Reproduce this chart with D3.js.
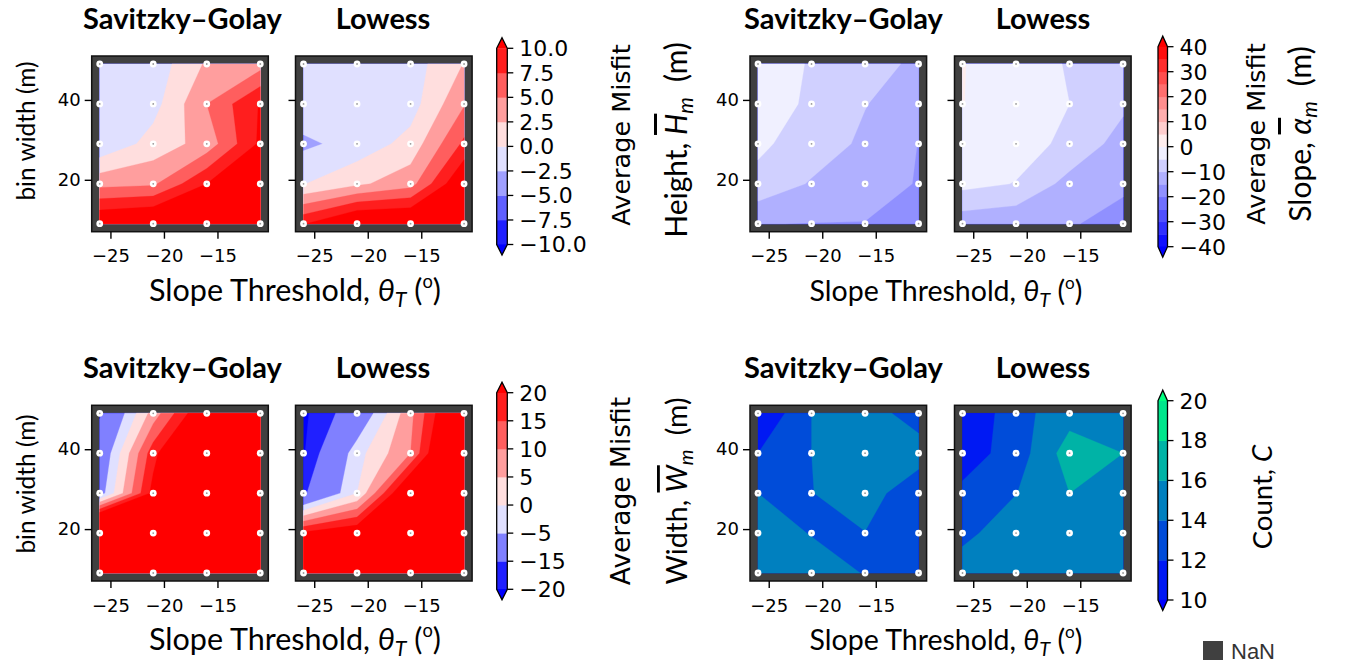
<!DOCTYPE html>
<html><head><meta charset="utf-8">
<script src="https://cdn.jsdelivr.net/npm/d3@7"></script>
<style>body{margin:0;background:#fff} svg{display:block}</style>
</head><body><svg id="c" width="1348" height="665"></svg>
<script>
// ---------------- DATA ----------------
const xGrid = [-26, -21, -16, -11];          // slope threshold
const yGrid = [9, 19, 29, 39, 49];            // bin width
const xTicks = [-25, -20, -15];
const xTickLabels = ["−25", "−20", "−15"];
const yTicks = [20, 40];
const yTickLabels = ["20", "40"];

// rows ordered from bin width 9 (bottom) to 49 (top); columns follow xGrid
const heightSG = [
  [13, 14, 14, 14],
  [4.2, 4.6, 10, 14],
  [-2.2, 1.0, 3.5, 10.5],
  [-1.5, -0.95, 5.0, 10.2],
  [-1.5, -1.54, 2.85, 4.0]
];
const heightLowess = [
  [9.8, 14, 14, 14],
  [-0.1, 2.0, 4.0, 13],
  [-3.0, -1.6, 0.9, 8],
  [-0.8, -0.9, -1.13, 4.8],
  [-1.0, -1.0, -1.22, 2.6]
];
const slopeSG = [
  [-14.9, -15.1, -15.2, -18],
  [-6.2, -10.5, -12, -15.4],
  [-4.2, -7, -11.05, -15.1],
  [-3.5, -5.5, -9.8, -13],
  [-3, -5.3, -8, -11]
];
const slopeLowess = [
  [-13, -14, -14.5, -17],
  [-3.5, -5.2, -11.8, -14],
  [-1, -3, -6.1, -12.2],
  [0.1, -2.5, -5.0, -9],
  [0.2, -3, -5.33, -8]
];
const widthSG = [
  [40, 40, 40, 40],
  [50, 40, 40, 40],
  [-8, 22, 40, 40],
  [-11, 18, 40, 40],
  [-15.7, 7.2, 27, 40]
];
const widthLowess = [
  [40, 40, 40, 40],
  [21, 25, 40, 40],
  [-16, 0, 30, 40],
  [-20.5, -2, 10, 40],
  [-21, -11, 8.6, 33]
];
const countSG = [
  [15, 15, 13.9, 13],
  [15, 13.9, 13.95, 13],
  [14, 13.95, 15, 12.5],
  [12, 14, 15, 15],
  [10, 14, 15, 13]
];
const countLowess = [
  [15, 15, 15, 15],
  [13.5, 15.1, 15, 15],
  [12.45, 13.95, 16, 15],
  [11, 12.9, 17, 16],
  [10, 13.3, 15.2, 15]
];

const heightLevels = [-10, -7.5, -5, -2.5, 0, 2.5, 5, 7.5, 10];
const heightTickLabels = ["−10.0", "−7.5", "−5.0", "−2.5", "0.0", "2.5", "5.0", "7.5", "10.0"];
const slopeLevels = [-40, -35, -30, -25, -20, -15, -10, -5, 0, 5, 10, 15, 20, 25, 30, 35, 40];
const slopeTicks = [-40, -30, -20, -10, 0, 10, 20, 30, 40];
const slopeTickLabels = ["−40", "−30", "−20", "−10", "0", "10", "20", "30", "40"];
const widthLevels = [-20, -15, -5, 0, 5, 10, 15, 20];
const widthTickLabels = ["−20", "−15", "−5", "0", "5", "10", "15", "20"];
const countLevels = [10, 12, 14, 16, 18, 20];
const countTickLabels = ["10", "12", "14", "16", "18", "20"];

const subplotTitles = ["Savitzky–Golay", "Lowess"];

// ---------------- COLORMAPS ----------------
function lutIndex(t) { return Math.min(255, Math.max(0, Math.floor(t * 256))) / 255; }
function bwr(t) {
  const u = lutIndex(t); let r, g, b;
  if (u < 0.5) { r = g = 2 * u; b = 1; } else { r = 1; g = b = 2 * (1 - u); }
  return d3.rgb(r * 255, g * 255, b * 255).toString();
}
function winter(t) {
  const u = lutIndex(t);
  return d3.rgb(0, u * 255, (1 - 0.5 * u) * 255).toString();
}

// ---------------- LAYOUT ----------------
const svg = d3.select("#c");
const axW = 176.6, axH = 175.7;
const FRAME = "#404040";

function drawAxes(left, top, values, levels, cmap, showYLabels) {
  const g = svg.append("g");
  const xs = d3.scaleLinear().domain([xGrid[0] - 0.75, xGrid[xGrid.length - 1] + 0.75]).range([left, left + axW]);
  const ys = d3.scaleLinear().domain([yGrid[0] - 2, yGrid[yGrid.length - 1] + 2]).range([top + axH, top]);
  g.append("rect").attr("x", left).attr("y", top).attr("width", axW).attr("height", axH).attr("fill", FRAME);

  const n = xGrid.length, m = yGrid.length;
  const flat = values.flat();
  const gi = d3.scaleLinear().domain([0, n - 1]).range([xGrid[0], xGrid[n - 1]]);
  const gj = d3.scaleLinear().domain([0, m - 1]).range([yGrid[0], yGrid[m - 1]]);
  const cl = (v, lo, hi) => Math.max(lo, Math.min(hi, v));
  const proj = d3.geoTransform({
    point(x, y) { this.stream.point(xs(gi(cl(x - 0.5, 0, n - 1))), ys(gj(cl(y - 0.5, 0, m - 1)))); }
  });
  const path = d3.geoPath(proj);
  const vmin = levels[0], vmax = levels[levels.length - 1];
  const norm = v => (v - vmin) / (vmax - vmin);
  g.append("rect")
    .attr("x", xs(xGrid[0])).attr("y", ys(yGrid[m - 1]))
    .attr("width", xs(xGrid[n - 1]) - xs(xGrid[0]))
    .attr("height", ys(yGrid[0]) - ys(yGrid[m - 1]))
    .attr("fill", cmap(-0.1));
  const conts = d3.contours().size([n, m]).thresholds(levels)(flat);
  conts.forEach((c, i) => {
    const col = i < levels.length - 1 ? cmap(norm((levels[i] + levels[i + 1]) / 2)) : cmap(1.1);
    g.append("path").attr("d", path(c)).attr("fill", col).attr("stroke", col).attr("stroke-width", 0.3);
  });
  const pts = [];
  yGrid.forEach(yv => xGrid.forEach(xv => pts.push([xv, yv])));
  g.selectAll("circle.p").data(pts).join("circle")
    .attr("cx", d => xs(d[0])).attr("cy", d => ys(d[1])).attr("r", 3.4).attr("fill", "#fff");
  g.selectAll("circle.q").data(pts).join("circle")
    .attr("cx", d => xs(d[0])).attr("cy", d => ys(d[1])).attr("r", 0.9).attr("fill", "#999");
  g.append("rect").attr("x", left).attr("y", top).attr("width", axW).attr("height", axH)
    .attr("fill", "none").attr("stroke", "#111").attr("stroke-width", 1.5);

  const xa = g.append("g").attr("transform", `translate(0,${top + axH})`)
    .call(d3.axisBottom(xs).tickValues(xTicks).tickSize(7).tickPadding(11)
      .tickFormat((d, i) => xTickLabels[i]));
  const ya = g.append("g").attr("transform", `translate(${left},0)`)
    .call(d3.axisLeft(ys).tickValues(yTicks).tickSize(7).tickPadding(4)
      .tickFormat((d, i) => showYLabels ? yTickLabels[i] : ""));
  [xa, ya].forEach(a => {
    a.select(".domain").remove();
    a.selectAll("line").attr("stroke", "#000").attr("stroke-width", 1.4);
    a.selectAll("text").attr("font-family", "DejaVu Sans").attr("font-size", 18).attr("fill", "#000");
  });
}

function colorbar(cb, levels, cmap, tickVals, tickLabels) {
  const g = svg.append("g");
  const n = levels.length;
  const pos = d3.scaleLinear().domain([0, n - 1]).range([cb.bottom, cb.top]);
  const vmin = levels[0], vmax = levels[n - 1];
  const norm = v => (v - vmin) / (vmax - vmin);
  for (let i = 0; i < n - 1; i++) {
    g.append("rect").attr("x", cb.x).attr("y", pos(i + 1)).attr("width", cb.w)
      .attr("height", pos(i) - pos(i + 1) + 0.4)
      .attr("fill", cmap(norm((levels[i] + levels[i + 1]) / 2)));
  }
  const ext = 10.5, x0 = cb.x, x1 = cb.x + cb.w, xm = cb.x + cb.w / 2;
  g.append("path").attr("d", `M${x0},${cb.top + 0.3}L${xm},${cb.top - ext}L${x1},${cb.top + 0.3}Z`).attr("fill", cmap(1.1));
  g.append("path").attr("d", `M${x0},${cb.bottom - 0.3}L${xm},${cb.bottom + ext}L${x1},${cb.bottom - 0.3}Z`).attr("fill", cmap(-0.1));
  g.append("path")
    .attr("d", `M${x0},${cb.top}L${xm},${cb.top - ext}L${x1},${cb.top}L${x1},${cb.bottom}L${xm},${cb.bottom + ext}L${x0},${cb.bottom}Z`)
    .attr("fill", "none").attr("stroke", "#000").attr("stroke-width", 1.3);
  tickVals.forEach((v, k) => {
    const y = pos(levels.indexOf(v));
    g.append("line").attr("x1", x1).attr("x2", x1 + 6).attr("y1", y).attr("y2", y).attr("stroke", "#000").attr("stroke-width", 1.3);
    g.append("text").attr("x", x1 + 12).attr("y", y).attr("dy", "0.36em")
      .attr("font-family", "DejaVu Sans").attr("font-size", 22).text(tickLabels[k]);
  });
}

function title(cx, baseline, txt, size) {
  svg.append("text").attr("x", cx).attr("y", baseline).attr("text-anchor", "middle")
    .attr("font-family", "Lato").attr("font-weight", 700).attr("font-size", size).text(txt);
}

function vtext(x, cy, family, size) {
  return svg.append("text").attr("transform", `translate(${x},${cy}) rotate(-90)`)
    .attr("text-anchor", "middle").attr("font-family", family).attr("font-size", size).attr("fill", "#000");
}

function xLabel(cx, baseline, size) {
  const t = svg.append("text").attr("x", cx).attr("y", baseline).attr("text-anchor", "middle")
    .attr("font-family", "Lato").attr("font-size", size);
  t.append("tspan").text("Slope Threshold, ");
  t.append("tspan").attr("font-style", "italic").text("θ");
  t.append("tspan").attr("font-style", "italic").attr("font-size", "70%").attr("dy", "0.3em").text("T");
  t.append("tspan").attr("dy", "-0.21em").text(" (");
  t.append("tspan").attr("font-size", "60%").attr("dy", "-0.7em").text("o");
  t.append("tspan").attr("dy", "0.42em").text(")");
}

function quantLabel(x, cy, word, sym, sub, size) {
  const t = vtext(x, cy, "Lato", size);
  t.append("tspan").text(word + ", ");
  const s = t.append("tspan").attr("font-style", "italic").text(sym);
  s.style("text-decoration", "overline");
  t.append("tspan").attr("font-style", "italic").attr("font-size", "70%").attr("dy", "0.3em").text(sub);
  t.append("tspan").attr("dy", "-0.21em").text("\u2002(m)");
}

function avgMisfit(x, cy, size) {
  vtext(x, cy, "DejaVu Sans", size).text("Average Misfit");
}

// ---------------- PANELS ----------------
const topY = 56, botY = 405.3;
const leftA = [91.7, 295.5], leftB = [750, 954.5];

drawAxes(leftA[0], topY, heightSG, heightLevels, bwr, true);
drawAxes(leftA[1], topY, heightLowess, heightLevels, bwr, false);
drawAxes(leftB[0], topY, slopeSG, slopeLevels, bwr, true);
drawAxes(leftB[1], topY, slopeLowess, slopeLevels, bwr, false);
drawAxes(leftA[0], botY, widthSG, widthLevels, bwr, true);
drawAxes(leftA[1], botY, widthLowess, widthLevels, bwr, false);
drawAxes(leftB[0], botY, countSG, countLevels, winter, true);
drawAxes(leftB[1], botY, countLowess, countLevels, winter, false);

colorbar({x: 496.7, w: 10.6, top: 48.3, bottom: 244.5}, heightLevels, bwr, heightLevels, heightTickLabels);
colorbar({x: 1158, w: 9.5, top: 46.7, bottom: 246.7}, slopeLevels, bwr, slopeTicks, slopeTickLabels);
colorbar({x: 496.7, w: 10.6, top: 392.7, bottom: 589.3}, widthLevels, bwr, widthLevels, widthTickLabels);
colorbar({x: 1158, w: 9.5, top: 400.7, bottom: 600}, countLevels, winter, countLevels, countTickLabels);

[[182.5, 383, 29], [843.5, 1043, 29], [182.5, 383, 378], [843.5, 1043, 378]].forEach(([a, b, y]) => {
  title(a, y, subplotTitles[0], 29);
  title(b, y, subplotTitles[1], 29);
});

[[35, 131], [35, 484]].forEach(([x, cy]) => {
  vtext(x, cy, "Lato", 24.5).text("bin width (m)");
});

xLabel(295, 301, 30.5);
xLabel(946, 301, 28.5);
xLabel(295, 650, 30.5);
xLabel(946, 650, 28.5);

avgMisfit(630, 135, 25.5);
quantLabel(687, 140, "Height", "H", "m", 30);
avgMisfit(1265, 134, 25.5);
quantLabel(1311, 134, "Slope", "α", "m", 30);
avgMisfit(630, 491, 26.5);
quantLabel(687, 491, "Width", "W", "m", 28.5);
(function () {
  const t = vtext(1272, 497, "Lato", 27.5);
  t.append("tspan").text("Count, ");
  t.append("tspan").attr("font-style", "italic").text("C");
})();

svg.append("rect").attr("x", 1203).attr("y", 641).attr("width", 20).attr("height", 19).attr("fill", FRAME);
svg.append("text").attr("x", 1231).attr("y", 659).attr("font-family", "Liberation Sans").attr("font-size", 22)
  .attr("fill", "#333").text("NaN");
</script></body></html>
